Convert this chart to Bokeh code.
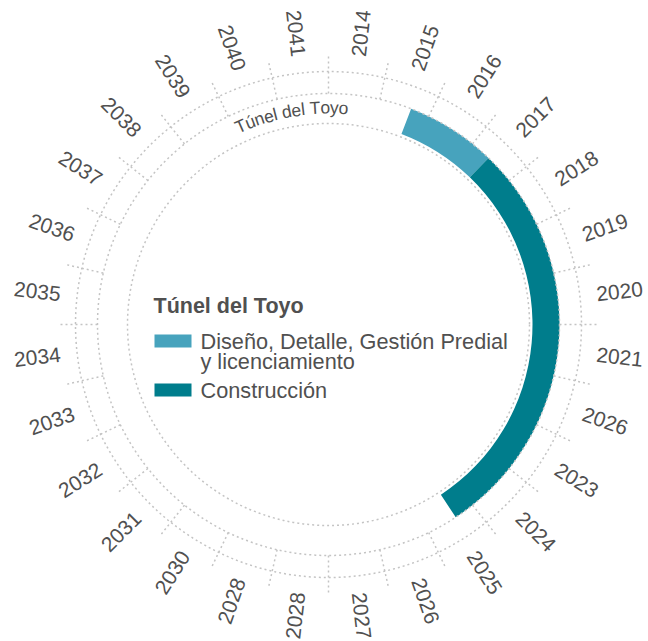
import math
from bokeh.plotting import figure
from bokeh.models import Range1d
from bokeh.embed import file_html
from bokeh.resources import INLINE
from bokeh.core.properties import value

# ---------------- data ----------------
year_labels = ["2014", "2015", "2016", "2017", "2018", "2019", "2020", "2021",
               "2026", "2023", "2024", "2025", "2026", "2027", "2028", "2028",
               "2030", "2031", "2032", "2033", "2034", "2035", "2036", "2037",
               "2038", "2039", "2040", "2041"]
first_year = 2014
project_name = "Túnel del Toyo"
phase_names = ["Diseño, Detalle, Gestión Predial\ny licenciamiento", "Construcción"]
phase_start = [2015.63, 2017.41]
phase_end = [2017.41, 2025.40]
phase_colors = ["#47a3bd", "#007d8c"]

# ---------------- layout ----------------
W, H = 648, 641
CX, CY = 328.0, -324.0
R_IN, R_MID, R_OUT = 201.0, 231.0, 253.0
BAND_IN, BAND_OUT = 204.0, 231.0
TICK_OUT = 269.0
R_LABEL = 293.0
FONT = "Liberation Sans"
TXT = "#505050"
GRID = "#c4c4c4"

n = len(year_labels)
step = 360.0 / n


def theta(pos):  # clockwise degrees from top
    return pos * step


def pt(r, th):
    t = math.radians(th)
    return CX + r * math.sin(t), CY + r * math.cos(t)


p = figure(width=W, height=H, x_range=Range1d(0, W), y_range=Range1d(-H, 0),
           output_backend="svg", toolbar_location=None, min_border=0,
           x_axis_type=None, y_axis_type=None)
p.grid.visible = False
p.outline_line_color = None
p.background_fill_color = "white"

# band
for s, e, c in zip(phase_start, phase_end, phase_colors):
    ts, te = theta(s - first_year), theta(e - first_year)
    p.annular_wedge(x=[CX], y=[CY], inner_radius=BAND_IN, outer_radius=BAND_OUT,
                    start_angle=math.radians(90 - te), end_angle=math.radians(90 - ts),
                    fill_color=c, line_color=None)

# circles
p.circle(x=[CX] * 3, y=[CY] * 3, radius=[R_IN, R_MID, R_OUT], fill_color=None,
         line_color=GRID, line_width=1.5, line_dash="2 3")

# ticks
x0s, y0s, x1s, y1s = [], [], [], []
for k in range(n):
    a, b = pt(R_MID, theta(k)), pt(TICK_OUT, theta(k))
    x0s.append(a[0]); y0s.append(a[1]); x1s.append(b[0]); y1s.append(b[1])
p.segment(x0=x0s, y0=y0s, x1=x1s, y1=y1s, line_color=GRID, line_width=1.5, line_dash="2 3")

# year labels
lx, ly, la = [], [], []
for k in range(n):
    th = theta(k + 0.5)
    x, y = pt(R_LABEL, th)
    lx.append(x); ly.append(y)
    la.append(math.radians(90 - th) if th < 180 else math.radians(270 - th))
p.text(x=lx, y=ly, text=year_labels, angle=la, text_align="center", text_baseline="middle",
       text_font=value(FONT), text_font_size="21px", text_color=TXT)

# curved project label
widths = {"T": 611, "ú": 556, "n": 556, "e": 556, "l": 222, " ": 278, "d": 556,
          "o": 556, "y": 500}
fs = 17.5
rm = 217.0
thc = -10.0
ws = [widths.get(ch, 556) * fs / 1000 for ch in project_name]
total = sum(ws)
cx_, cy_, ca_, ct_ = [], [], [], []
cum = 0.0
for ch, w in zip(project_name, ws):
    sarc = cum + w / 2 - total / 2
    th = thc + math.degrees(sarc / rm)
    x, y = pt(rm, th)
    cx_.append(x); cy_.append(y); ca_.append(-math.radians(th)); ct_.append(ch)
    cum += w
p.text(x=cx_, y=cy_, text=ct_, angle=ca_, text_align="center", text_baseline="middle",
       text_font=value(FONT), text_font_size="17.5px", text_color=TXT)

# legend
p.text(x=[153], y=[-305], text=[project_name], text_align="left", text_baseline="middle",
       text_font=value(FONT), text_font_size="21.5px", text_font_style="bold", text_color=TXT)
sw_top = [-334, -383]
sw_bot = [-347, -396]
p.quad(left=[154, 154], right=[191, 191], top=sw_top, bottom=sw_bot,
       fill_color=phase_colors, line_color=None)
ltx, lty = [], []
for name, t, b in zip(phase_names, sw_top, sw_bot):
    for i, line in enumerate(name.split("\n")):
        ltx.append(line); lty.append((t + b) / 2 - 20 * i)
p.text(x=[200] * len(ltx), y=lty, text=ltx, text_align="left", text_baseline="middle",
       text_font=value(FONT), text_font_size="21.7px", text_color=TXT)

open("out.html", "w").write(file_html(p, INLINE))
